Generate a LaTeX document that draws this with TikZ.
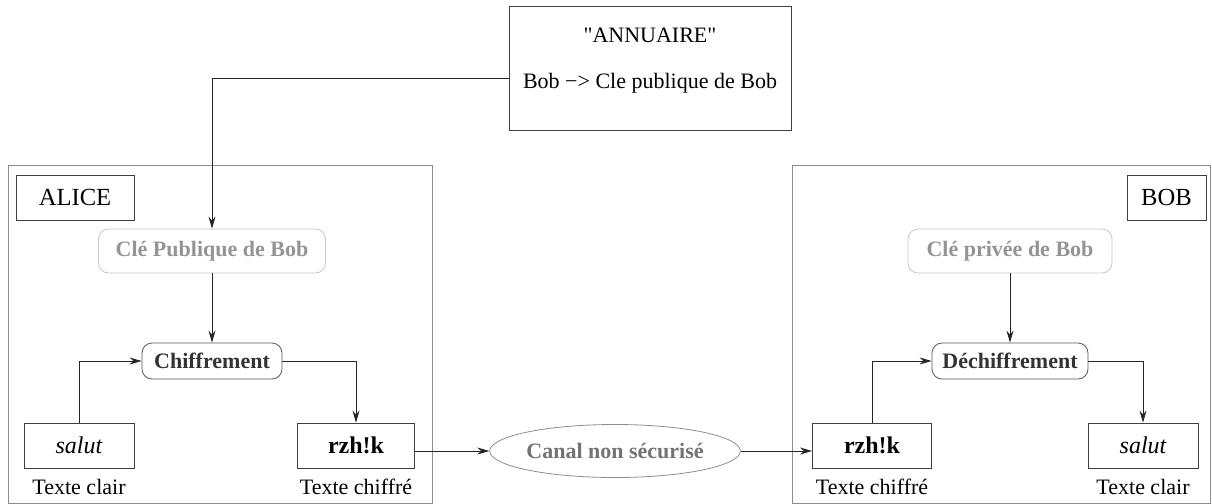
\documentclass[tikz,border=0pt]{standalone}
\usepackage{fontspec}
\newfontfamily\timesfont{Liberation Serif}
\usetikzlibrary{shapes.geometric, arrows.meta, positioning}
\tikzstyle{zone} = [rectangle, draw=black!45, inner sep=0pt]
\tikzstyle{tag} = [rectangle, draw=black!75, inner sep=0pt, minimum height=22.5pt, font=\timesfont\fontsize{12.3}{14}\selectfont]
\tikzstyle{key} = [rectangle, rounded corners=5pt, draw=black!22, text=black!42, inner sep=0pt, minimum height=22pt, font=\timesfont\fontsize{11}{13}\selectfont\bfseries]
\tikzstyle{process} = [rectangle, rounded corners=5pt, draw=black!65, text=black!80, inner sep=0pt, minimum height=18pt, font=\timesfont\fontsize{11}{13}\selectfont\bfseries]
\tikzstyle{data} = [rectangle, draw=black!75, inner sep=0pt, minimum height=22.5pt, font=\timesfont\fontsize{12}{14}\selectfont]
\tikzstyle{caption} = [inner sep=0pt, font=\timesfont\fontsize{11}{13}\selectfont]
\tikzstyle{channel} = [ellipse, draw=black!45, text=black!55, inner sep=0pt, minimum width=106pt, minimum height=26.5pt, font=\timesfont\fontsize{11}{13}\selectfont\bfseries]
\tikzstyle{arrow} = [black!85, -{Stealth[length=6pt,width=3.5pt]}]

\begin{document}
\begin{tikzpicture}[x=0.5pt, y=-0.5pt]
\useasboundingbox (0,0) rectangle (1212,504);

% annuaire
\node (annuaire) [rectangle, draw=black!75, minimum width=141pt, minimum height=62pt] at (650,68) {};
\node (anntitle) [caption] at (650,35) {\textquotedbl ANNUAIRE\textquotedbl};
\node (annentry) [caption] at (650,83) {Bob −> Cle publique de Bob};

% cote Alice
\node (alice) [zone, minimum width=212pt, minimum height=169pt] at (220,334) {};
\node (alicetag) [tag, minimum width=59pt] at (75,197.5) {ALICE};
\node (clepub) [key, minimum width=113.5pt] at (212,251) {Clé Publique de Bob};
\node (chiff) [process, minimum width=70pt] at (212,361) {Chiffrement};
\node (salutA) [data, minimum width=55pt] at (79,445.5) {\itshape salut};
\node (rzhA) [data, minimum width=58.5pt] at (356,445.5) {\bfseries rzh!k};
\node (clairA) [caption, below=5pt of salutA] {Texte clair};
\node (chiffreA) [caption, below=5pt of rzhA] {Texte chiffré};

% canal
\node (canal) [channel] at (615,451) {Canal non sécurisé};

% cote Bob
\node (bob) [zone, minimum width=209pt, minimum height=169pt] at (1001,334) {};
\node (bobtag) [tag, minimum width=39.5pt] at (1166.5,197.5) {BOB};
\node (clepriv) [key, minimum width=102pt] at (1010,251) {Clé privée de Bob};
\node (dechiff) [process, minimum width=78pt] at (1010,361) {Déchiffrement};
\node (rzhB) [data, minimum width=59.5pt] at (872,445.5) {\bfseries rzh!k};
\node (salutB) [data, minimum width=55pt] at (1143,445.5) {\itshape salut};
\node (chiffreB) [caption, below=5pt of rzhB] {Texte chiffré};
\node (clairB) [caption, below=5pt of salutB] {Texte clair};

\draw [arrow] ([yshift=-5pt]annuaire.west) -| (clepub.north);
\draw [arrow] (clepub) -- (chiff);
\draw [arrow] (salutA.north) |- (chiff.west);
\draw [arrow] (chiff.east) -| (rzhA.north);
\draw [arrow] (rzhA.east |- canal.west) -- (canal.west);
\draw [arrow] (canal.east) -- (rzhB.west |- canal.east);
\draw [arrow] (clepriv) -- (dechiff);
\draw [arrow] (rzhB.north) |- (dechiff.west);
\draw [arrow] (dechiff.east) -| (salutB.north);

\end{tikzpicture}
\end{document}
